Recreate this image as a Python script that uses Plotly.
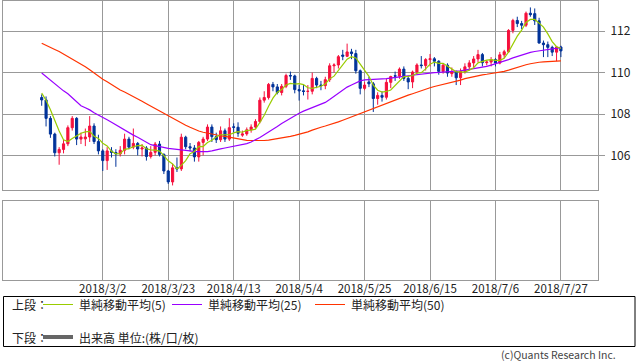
import plotly.graph_objects as go
import pandas as pd

# ---------------- data ----------------
dates = pd.bdate_range("2018-02-12", "2018-07-27").strftime("%Y-%m-%d").tolist()

opens = [108.80, 108.68, 107.79, 107.03, 106.13, 106.29, 106.56, 107.34, 107.79, 106.79,
         106.80, 106.89, 107.42, 106.67, 106.22, 105.75, 106.22, 106.14, 106.07, 106.25,
         106.79, 106.40, 106.58, 106.31, 106.36, 105.95, 106.15, 106.55, 106.05, 105.25,
         104.72, 105.40, 105.35, 106.88, 106.42, 106.36, 105.93, 106.63, 106.79, 107.37,
         106.91, 106.76, 107.19, 106.79, 107.38, 107.36, 106.98, 107.04, 107.24, 107.37,
         107.64, 108.67, 108.80, 109.43, 109.31, 109.04, 109.34, 109.86, 109.84, 109.18,
         109.12, 109.09, 109.10, 109.72, 109.40, 109.37, 109.66, 110.33, 110.37, 110.85,
         110.79, 111.00, 110.92, 110.09, 109.24, 109.55, 109.46, 108.75, 108.90, 108.81,
         109.53, 109.85, 109.83, 110.17, 109.72, 109.55, 110.03, 110.37, 110.34, 110.63,
         110.67, 110.55, 110.06, 110.36, 109.95, 110.05, 109.75, 110.06, 110.28, 110.47,
         110.66, 110.87, 110.48, 110.51, 110.63, 110.46, 110.86, 111.01, 112.04, 112.52,
         112.37, 112.29, 112.87, 112.85, 112.50, 111.43, 111.35, 111.22, 110.99, 111.24]
highs = [108.95, 108.85, 107.90, 107.10, 106.40, 106.75, 107.45, 107.90, 107.85, 107.10,
         107.30, 107.90, 107.55, 107.00, 106.30, 106.40, 106.40, 106.30, 106.45, 107.05,
         106.90, 107.30, 106.65, 106.55, 106.45, 106.45, 106.65, 106.70, 106.10, 105.30,
         105.60, 105.90, 107.05, 106.95, 106.60, 106.50, 106.70, 106.90, 107.50, 107.50,
         107.10, 107.40, 107.30, 107.80, 107.55, 107.60, 107.20, 107.35, 107.50, 107.75,
         108.80, 109.10, 109.50, 109.55, 109.45, 109.45, 109.95, 110.05, 109.90, 109.40,
         109.40, 109.40, 110.00, 109.80, 109.60, 109.80, 110.45, 110.45, 110.85, 111.10,
         111.40, 111.15, 111.10, 110.15, 109.55, 109.80, 109.55, 109.05, 109.10, 109.70,
         109.85, 110.05, 110.25, 110.30, 109.85, 110.10, 110.45, 110.80, 110.70, 110.90,
         110.75, 110.60, 110.45, 110.45, 110.25, 110.10, 110.20, 110.45, 110.60, 110.80,
         111.10, 110.95, 110.60, 110.75, 110.70, 111.00, 111.10, 112.10, 112.60, 112.70,
         112.50, 112.95, 113.15, 113.10, 112.65, 111.55, 111.50, 111.30, 111.25, 111.30]
lows = [108.40, 107.40, 106.85, 105.95, 105.55, 106.10, 106.45, 107.20, 106.50, 106.55,
        106.45, 106.65, 106.55, 106.05, 105.25, 105.30, 105.90, 105.45, 105.95, 106.05,
        106.30, 106.30, 106.00, 105.95, 105.75, 105.85, 106.00, 105.95, 105.10, 104.62,
        104.55, 105.20, 105.25, 106.30, 106.20, 105.70, 105.70, 106.00, 106.70, 106.65,
        106.60, 106.65, 106.65, 106.70, 107.10, 106.90, 106.90, 106.95, 107.10, 107.30,
        107.55, 108.55, 108.70, 109.10, 108.95, 108.90, 109.25, 109.65, 109.00, 108.65,
        108.90, 108.70, 108.95, 109.25, 109.15, 109.20, 109.55, 110.00, 110.20, 110.60,
        110.75, 110.65, 109.95, 108.95, 109.15, 109.30, 108.10, 108.45, 108.60, 108.70,
        109.25, 109.60, 109.70, 109.60, 109.20, 109.25, 109.90, 110.20, 110.10, 110.30,
        110.30, 109.90, 109.95, 109.80, 109.80, 109.40, 109.40, 109.95, 110.10, 110.25,
        110.50, 110.30, 110.35, 110.30, 110.30, 110.40, 110.70, 110.95, 111.90, 112.20,
        112.10, 112.20, 112.70, 112.30, 111.40, 110.75, 110.75, 110.80, 110.55, 110.75]
closes = [108.68, 107.79, 107.03, 106.13, 106.29, 106.56, 107.34, 107.79, 106.79, 106.89,
          106.89, 107.42, 106.67, 106.22, 105.75, 106.22, 106.14, 106.07, 106.25, 106.79,
          106.40, 106.58, 106.31, 106.36, 105.95, 106.15, 106.55, 106.05, 105.25, 104.72,
          105.40, 105.35, 106.88, 106.42, 106.36, 105.93, 106.63, 106.79, 107.37, 106.91,
          106.76, 107.19, 106.79, 107.34, 107.36, 107.07, 107.04, 107.24, 107.37, 107.64,
          108.67, 108.80, 109.43, 109.31, 109.04, 109.34, 109.86, 109.84, 109.18, 109.12,
          109.09, 109.10, 109.72, 109.40, 109.37, 109.66, 110.33, 110.37, 110.77, 110.79,
          111.00, 110.92, 110.09, 109.24, 109.40, 109.46, 108.75, 108.90, 108.81, 109.53,
          109.81, 109.83, 110.17, 109.72, 109.55, 110.03, 110.37, 110.34, 110.63, 110.67,
          110.55, 110.06, 110.36, 109.98, 110.05, 109.75, 110.06, 110.28, 110.47, 110.66,
          110.87, 110.48, 110.51, 110.63, 110.46, 110.86, 111.01, 112.04, 112.52, 112.37,
          112.29, 112.87, 112.80, 112.50, 111.43, 111.35, 111.22, 110.99, 111.24, 111.05]

ma5 = [109.01, 108.67, 108.21, 107.68, 107.18, 106.76, 106.67, 106.82, 106.95, 107.07,
       107.14, 107.16, 106.93, 106.82, 106.59, 106.46, 106.20, 106.08, 106.09, 106.29,
       106.33, 106.42, 106.47, 106.49, 106.32, 106.27, 106.26, 106.21, 105.99, 105.74,
       105.59, 105.35, 105.52, 105.75, 106.08, 106.19, 106.44, 106.43, 106.62, 106.73,
       106.89, 107.00, 107.00, 107.00, 107.09, 107.15, 107.12, 107.21, 107.22, 107.27,
       107.59, 107.94, 108.38, 108.77, 109.05, 109.18, 109.40, 109.48, 109.45, 109.47,
       109.42, 109.27, 109.24, 109.29, 109.34, 109.45, 109.70, 109.83, 110.10, 110.38,
       110.65, 110.77, 110.71, 110.41, 110.13, 109.82, 109.39, 109.15, 109.06, 109.09,
       109.16, 109.38, 109.63, 109.81, 109.82, 109.86, 109.97, 110.00, 110.18, 110.41,
       110.51, 110.45, 110.45, 110.32, 110.20, 110.04, 110.04, 110.02, 110.12, 110.24,
       110.47, 110.55, 110.60, 110.63, 110.59, 110.59, 110.69, 111.00, 111.38, 111.76,
       112.05, 112.42, 112.57, 112.57, 112.39, 112.20, 111.87, 111.50, 111.25, 111.17]
ma25 = [109.98, 109.80, 109.62, 109.45, 109.28, 109.12, 108.98, 108.80, 108.60, 108.40,
        108.30, 108.20, 108.06, 107.96, 107.85, 107.72, 107.60, 107.47, 107.36, 107.20,
        107.07, 106.98, 106.88, 106.76, 106.63, 106.52, 106.47, 106.42, 106.38, 106.34,
        106.32, 106.30, 106.28, 106.25, 106.22, 106.18, 106.17, 106.17, 106.18, 106.22,
        106.28, 106.32, 106.36, 106.40, 106.43, 106.47, 106.51, 106.57, 106.65, 106.75,
        106.87, 107.00, 107.12, 107.26, 107.40, 107.54, 107.67, 107.80, 107.92, 108.04,
        108.14, 108.22, 108.30, 108.38, 108.47, 108.56, 108.70, 108.85, 109.00, 109.18,
        109.30, 109.40, 109.50, 109.60, 109.65, 109.67, 109.68, 109.69, 109.70, 109.71,
        109.73, 109.76, 109.79, 109.82, 109.85, 109.88, 109.91, 109.94, 109.96, 109.98,
        110.00, 110.01, 110.02, 110.03, 110.04, 110.06, 110.09, 110.12, 110.15, 110.18,
        110.21, 110.25, 110.30, 110.36, 110.42, 110.48, 110.55, 110.63, 110.71, 110.78,
        110.85, 110.92, 110.98, 111.02, 111.05, 111.08, 111.12, 111.16, 111.19, 111.21]
ma50 = [111.42, 111.33, 111.22, 111.12, 111.02, 110.90, 110.78, 110.65, 110.52, 110.40,
        110.28, 110.14, 109.98, 109.82, 109.68, 109.56, 109.42, 109.28, 109.16, 109.06,
        108.96, 108.86, 108.74, 108.62, 108.50, 108.38, 108.26, 108.14, 108.02, 107.90,
        107.78, 107.66, 107.55, 107.46, 107.36, 107.26, 107.18, 107.12, 107.07, 107.02,
        106.98, 106.95, 106.92, 106.88, 106.84, 106.80, 106.76, 106.73, 106.72, 106.71,
        106.71, 106.72, 106.74, 106.77, 106.80, 106.84, 106.88, 106.92, 106.97, 107.02,
        107.08, 107.14, 107.22, 107.30, 107.36, 107.42, 107.48, 107.54, 107.62, 107.70,
        107.78, 107.86, 107.94, 108.02, 108.12, 108.20, 108.28, 108.36, 108.46, 108.54,
        108.62, 108.70, 108.77, 108.84, 108.91, 108.98, 109.06, 109.13, 109.20, 109.27,
        109.33, 109.38, 109.43, 109.47, 109.52, 109.58, 109.64, 109.71, 109.76, 109.80,
        109.85, 109.89, 109.92, 109.95, 109.98, 110.01, 110.06, 110.12, 110.19, 110.26,
        110.32, 110.38, 110.43, 110.48, 110.50, 110.52, 110.54, 110.55, 110.56, 110.57]
volume = [0] * len(dates)

grid_dates = ["2018-03-02", "2018-03-23", "2018-04-13", "2018-05-04",
              "2018-05-25", "2018-06-15", "2018-07-06", "2018-07-27"]
grid_labels = ["2018/3/2", "2018/3/23", "2018/4/13", "2018/5/4",
               "2018/5/25", "2018/6/15", "2018/7/6", "2018/7/27"]
price_ticks = [106, 108, 110, 112]

legend_labels = ["単純移動平均(5)", "単純移動平均(25)", "単純移動平均(50)"]
volume_label = "出来高 単位:(株/口/枚)"

# ---------------- styling ----------------
RED = "#f5103c"
BLUE = "#003399"
C5 = "#99cc00"
C25 = "#9900ff"
C50 = "#ff3300"
GRID = "#999999"
FONT = "Noto Sans CJK JP"

W, H = 638, 362
ML, MR, MT, MB = 3, 40, 1, 82
PLOT_BOTTOM = H - MB
PH = PLOT_BOTTOM - MT
PW = W - ML - MR


def px(xp):
    return (xp - ML) / PW


def py(yp):
    return (PLOT_BOTTOM - yp) / PH


fig = go.Figure()
fig.add_trace(go.Candlestick(
    x=dates, open=opens, high=highs, low=lows, close=closes,
    increasing=dict(line=dict(color=RED, width=1), fillcolor=RED),
    decreasing=dict(line=dict(color=BLUE, width=1), fillcolor=BLUE),
    whiskerwidth=0, xaxis="x", yaxis="y", hoverinfo="skip"))
for vals, col in [(ma50, C50), (ma25, C25), (ma5, C5)]:
    fig.add_trace(go.Scatter(x=dates, y=vals, mode="lines",
                             line=dict(color=col, width=1.2),
                             xaxis="x", yaxis="y", hoverinfo="skip"))
fig.add_trace(go.Bar(x=dates, y=volume, marker=dict(color="#666666", line=dict(width=0)),
                     xaxis="x2", yaxis="y2", hoverinfo="skip"))

axis_common = dict(showline=True, mirror=True, linecolor=GRID, linewidth=1,
                   gridcolor=GRID, gridwidth=1, zeroline=False)
xr = [-8.87, 127.5]
fig.update_layout(
    width=W, height=H, margin=dict(l=ML, r=MR, t=MT, b=MB),
    paper_bgcolor="white", plot_bgcolor="white", showlegend=False,
    font=dict(family=FONT, size=11, color="#222222"),
    xaxis=dict(type="category", range=xr, tickmode="array", tickvals=grid_dates,
               showticklabels=False, ticks="", showgrid=True,
               rangeslider=dict(visible=False), anchor="y", **axis_common),
    yaxis=dict(domain=[py(190), 1], range=[104.33, 113.46], side="right",
               tickmode="array", tickvals=price_ticks, ticks="outside",
               ticklen=6, tickcolor=GRID, showgrid=True, anchor="x",
               ticklabelstandoff=3,
               tickfont=dict(family=FONT, size=12, color="#222222"), **axis_common),
    xaxis2=dict(type="category", matches="x", range=xr, tickmode="array",
                tickvals=grid_dates, ticktext=grid_labels, ticks="", showgrid=True,
                anchor="y2", ticklabelstandoff=-2,
                tickfont=dict(family=FONT, size=11.5, color="#222222"),
                **axis_common),
    yaxis2=dict(domain=[0, py(201)], range=[0, 1], showticklabels=False, ticks="",
                showgrid=False, anchor="x2", **axis_common),
)

# legend box
shapes = [dict(type="rect", xref="paper", yref="paper",
               x0=px(3.5), x1=px(635), y0=py(296.5), y1=py(346.5),
               line=dict(color="black", width=1), fillcolor="rgba(0,0,0,0)")]
annotations = []
row1, row2 = 304.5, 337
annotations.append(dict(text="上段：", x=px(10), y=py(row1)))
annotations.append(dict(text="下段：", x=px(10), y=py(row2)))
for (x0, x1), col, lab in zip([(43, 73), (172, 202), (315, 345)], [C5, C25, C50], legend_labels):
    shapes.append(dict(type="line", xref="paper", yref="paper", x0=px(x0), x1=px(x1),
                       y0=py(row1), y1=py(row1), line=dict(color=col, width=1)))
    annotations.append(dict(text=lab, x=px(x1 + 4), y=py(row1)))
shapes.append(dict(type="line", xref="paper", yref="paper", x0=px(43), x1=px(73),
                   y0=py(row2), y1=py(row2), line=dict(color="#666666", width=4)))
annotations.append(dict(text=volume_label, x=px(77), y=py(row2)))
for a in annotations:
    a.update(xref="paper", yref="paper", xanchor="left", yanchor="middle",
             showarrow=False, font=dict(family=FONT, size=12, color="#222222"))
annotations.append(dict(text="(c)Quants Research Inc.", xref="paper", yref="paper",
                        x=px(618), y=py(354), xanchor="right", yanchor="middle",
                        showarrow=False, font=dict(family=FONT, size=10.5, color="#444444")))
fig.update_layout(shapes=shapes, annotations=annotations)

fig.write_html("out.html", config={"displayModeBar": False},
               post_script="document.body.style.margin='0px';")
